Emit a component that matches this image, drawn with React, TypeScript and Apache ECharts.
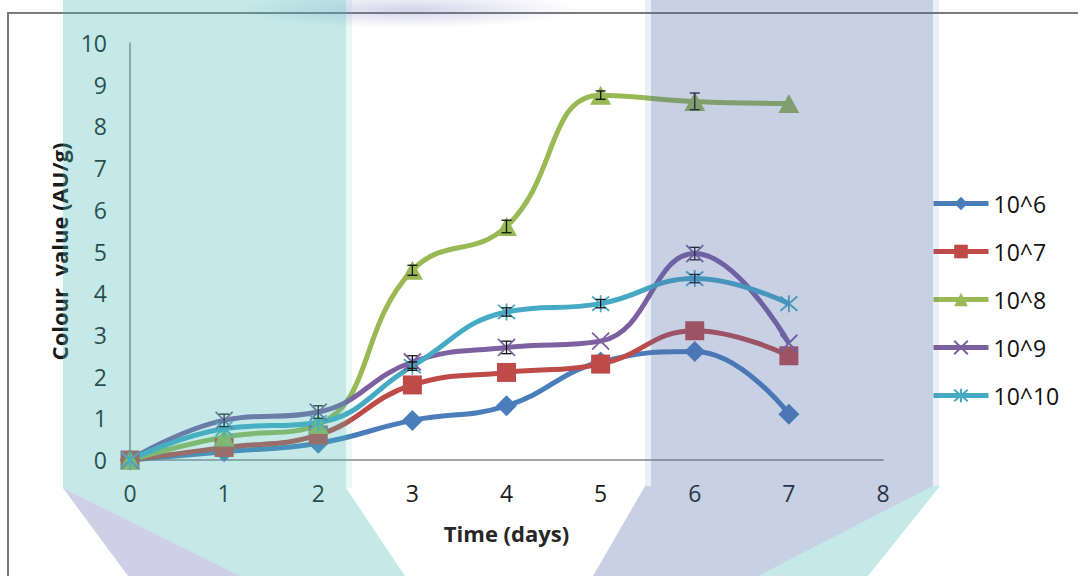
import React, { useEffect, useRef } from "react";
import * as echarts from "echarts";

const days = [0, 1, 2, 3, 4, 5, 6, 7];
const seriesNames = ["10^6", "10^7", "10^8", "10^9", "10^10"];
const v6 = [0, 0.2, 0.4, 0.95, 1.3, 2.35, 2.6, 1.1];
const v7 = [0, 0.3, 0.6, 1.8, 2.1, 2.3, 3.1, 2.5];
const v8 = [0, 0.55, 0.85, 4.55, 5.6, 8.75, 8.6, 8.55];
const v9 = [0, 0.95, 1.15, 2.35, 2.7, 2.85, 4.95, 2.8];
const v10 = [0, 0.75, 0.9, 2.25, 3.55, 3.75, 4.35, 3.75];
const e6 = [0, 0, 0, 0, 0, 0, 0, 0];
const e7 = [0, 0, 0, 0, 0, 0, 0, 0];
const e8 = [0, 0, 0, 0.12, 0.15, 0.1, 0.2, 0];
const e9 = [0, 0.15, 0.15, 0.15, 0.15, 0, 0.15, 0];
const e10 = [0, 0, 0, 0.1, 0.1, 0.1, 0.1, 0];
const xTicks = [0, 1, 2, 3, 4, 5, 6, 7, 8];
const yTicks = [0, 1, 2, 3, 4, 5, 6, 7, 8, 9, 10];

const colors = ["#4a7ebb", "#be4b48", "#98b954", "#7d60a0", "#46aac5"];
const xPath = "path://M0,0L10,10M10,0L0,10";
const starPath = "path://M0,0L10,10M10,0L0,10M5,-1L5,11";

const allValues = [v6, v7, v8, v9, v10];
const allErrors = [e6, e7, e8, e9, e10];
const symbols = ["diamond", "rect", "triangle", xPath, starPath];

export default function App() {
  const ref = useRef<HTMLDivElement>(null);
  useEffect(() => {
    const chart = echarts.init(ref.current!, null, { renderer: "svg" });
    const font = "'Open Sans', sans-serif";

    const lineSeries = seriesNames.map((name, i) => {
      const isStroke = i >= 3;
      return {
        name,
        type: "line",
        smooth: 0.45,
        data: days.map((d, k) => [d, allValues[i][k]]),
        symbol: symbols[i],
        symbolSize: isStroke ? 17 : i === 2 ? [21, 19] : i === 0 ? 21 : 19,
        showAllSymbol: true,
        lineStyle: { color: colors[i], width: 5 },
        itemStyle: isStroke
          ? { color: colors[i], borderColor: colors[i], borderWidth: 1.8 }
          : { color: colors[i], borderWidth: 0 },
        z: 2,
      };
    });

    const errData: number[][] = [];
    allValues.forEach((vals, i) => {
      vals.forEach((v, k) => {
        const e = allErrors[i][k];
        if (e > 0) errData.push([days[k], v - e, v + e]);
      });
    });

    const errorSeries = {
      type: "custom",
      name: "err",
      data: errData,
      z: 3,
      silent: true,
      renderItem: (params: any, api: any) => {
        const x = api.value(0);
        const lo = api.coord([x, api.value(1)]);
        const hi = api.coord([x, api.value(2)]);
        const w = 5;
        const st = { stroke: "#111", lineWidth: 1.3 };
        return {
          type: "group",
          children: [
            { type: "line", shape: { x1: lo[0], y1: lo[1], x2: hi[0], y2: hi[1] }, style: st },
            { type: "line", shape: { x1: lo[0] - w, y1: lo[1], x2: lo[0] + w, y2: lo[1] }, style: st },
            { type: "line", shape: { x1: hi[0] - w, y1: hi[1], x2: hi[0] + w, y2: hi[1] }, style: st },
          ],
        };
      },
    };

    const teal = "rgba(70,188,183,0.32)";
    const blue = "rgba(78,102,168,0.31)";
    const lav = "rgba(110,110,185,0.33)";

    chart.setOption({
      animation: false,
      backgroundColor: "#ffffff",
      textStyle: { fontFamily: font },
      grid: { left: 130, right: 195, top: 43, bottom: 116, containLabel: false },
      xAxis: {
        type: "value",
        min: xTicks[0],
        max: xTicks[xTicks.length - 1],
        interval: 1,
        name: "Time (days)",
        nameLocation: "middle",
        nameGap: 62,
        nameTextStyle: { fontSize: 22, fontWeight: "bold", color: "#262626", fontFamily: font },
        axisLine: { lineStyle: { color: "#868686", width: 1.5 } },
        axisTick: { show: false },
        splitLine: { show: false },
        axisLabel: { fontSize: 23, color: "#1a1a1a", margin: 21, fontFamily: font },
      },
      yAxis: {
        type: "value",
        min: yTicks[0],
        max: yTicks[yTicks.length - 1],
        interval: 1,
        name: "Colour  value (AU/g)",
        nameLocation: "middle",
        nameRotate: 90,
        nameGap: 60,
        nameTextStyle: { fontSize: 22, fontWeight: "bold", color: "#1a1a1a", fontFamily: font },
        axisLine: { show: true, lineStyle: { color: "#868686", width: 1.5 } },
        axisTick: { show: false },
        splitLine: { show: false },
        axisLabel: { fontSize: 23, color: "#1a1a1a", margin: 23, fontFamily: font },
      },
      legend: {
        data: seriesNames,
        orient: "vertical",
        left: 931,
        top: 191,
        padding: 0,
        itemWidth: 55,
        itemHeight: 17,
        itemGap: 23,
        lineStyle: { width: 5 },
        textStyle: { fontSize: 23, color: "#111", lineHeight: 25, fontFamily: font },
        selectedMode: false,
      },
      series: [...lineSeries, errorSeries],
      graphic: [
        {
          type: "rect",
          z: 100,
          silent: true,
          shape: { x: 8, y: 13, width: 1200, height: 700 },
          style: { fill: "none", stroke: "#7a7a7a", lineWidth: 2 },
        },
        {
          type: "ellipse",
          z: 101,
          silent: true,
          shape: { cx: 410, cy: 10, rx: 170, ry: 18 },
          style: {
            fill: new echarts.graphic.RadialGradient(0.5, 0.5, 0.5, [
              { offset: 0, color: "rgba(110,110,185,0.3)" },
              { offset: 1, color: "rgba(110,110,185,0)" },
            ]),
          },
        },
        {
          type: "polygon",
          z: 101,
          silent: true,
          shape: { points: [[63, 0], [346, 0], [346, 488], [405, 576], [240, 576], [63, 488]] },
          style: { fill: teal },
        },
        {
          type: "polygon",
          z: 101,
          silent: true,
          shape: { points: [[346, 0], [352, 0], [352, 488], [346, 488]] },
          style: { fill: "rgba(70,188,183,0.12)" },
        },
        {
          type: "polygon",
          z: 101,
          silent: true,
          shape: { points: [[63, 488], [240, 576], [128, 576]] },
          style: { fill: lav },
        },
        {
          type: "polygon",
          z: 101,
          silent: true,
          shape: { points: [[651, 0], [933, 0], [933, 486], [758, 576], [593, 576], [645, 486], [651, 486]] },
          style: { fill: blue },
        },
        {
          type: "polygon",
          z: 101,
          silent: true,
          shape: { points: [[645, 0], [651, 0], [651, 486], [645, 486]] },
          style: { fill: "rgba(78,102,168,0.1)" },
        },
        {
          type: "polygon",
          z: 101,
          silent: true,
          shape: { points: [[933, 0], [939, 0], [939, 486], [933, 486]] },
          style: { fill: "rgba(78,102,168,0.1)" },
        },
        {
          type: "polygon",
          z: 101,
          silent: true,
          shape: { points: [[933, 486], [940, 486], [868, 576], [758, 576]] },
          style: { fill: teal },
        },
      ],
    });
    return () => chart.dispose();
  }, []);
  return (
    <div
      ref={ref}
      style={{ position: "fixed", left: 0, top: 0, width: 1078, height: 576, background: "#fff" }}
    />
  );
}
